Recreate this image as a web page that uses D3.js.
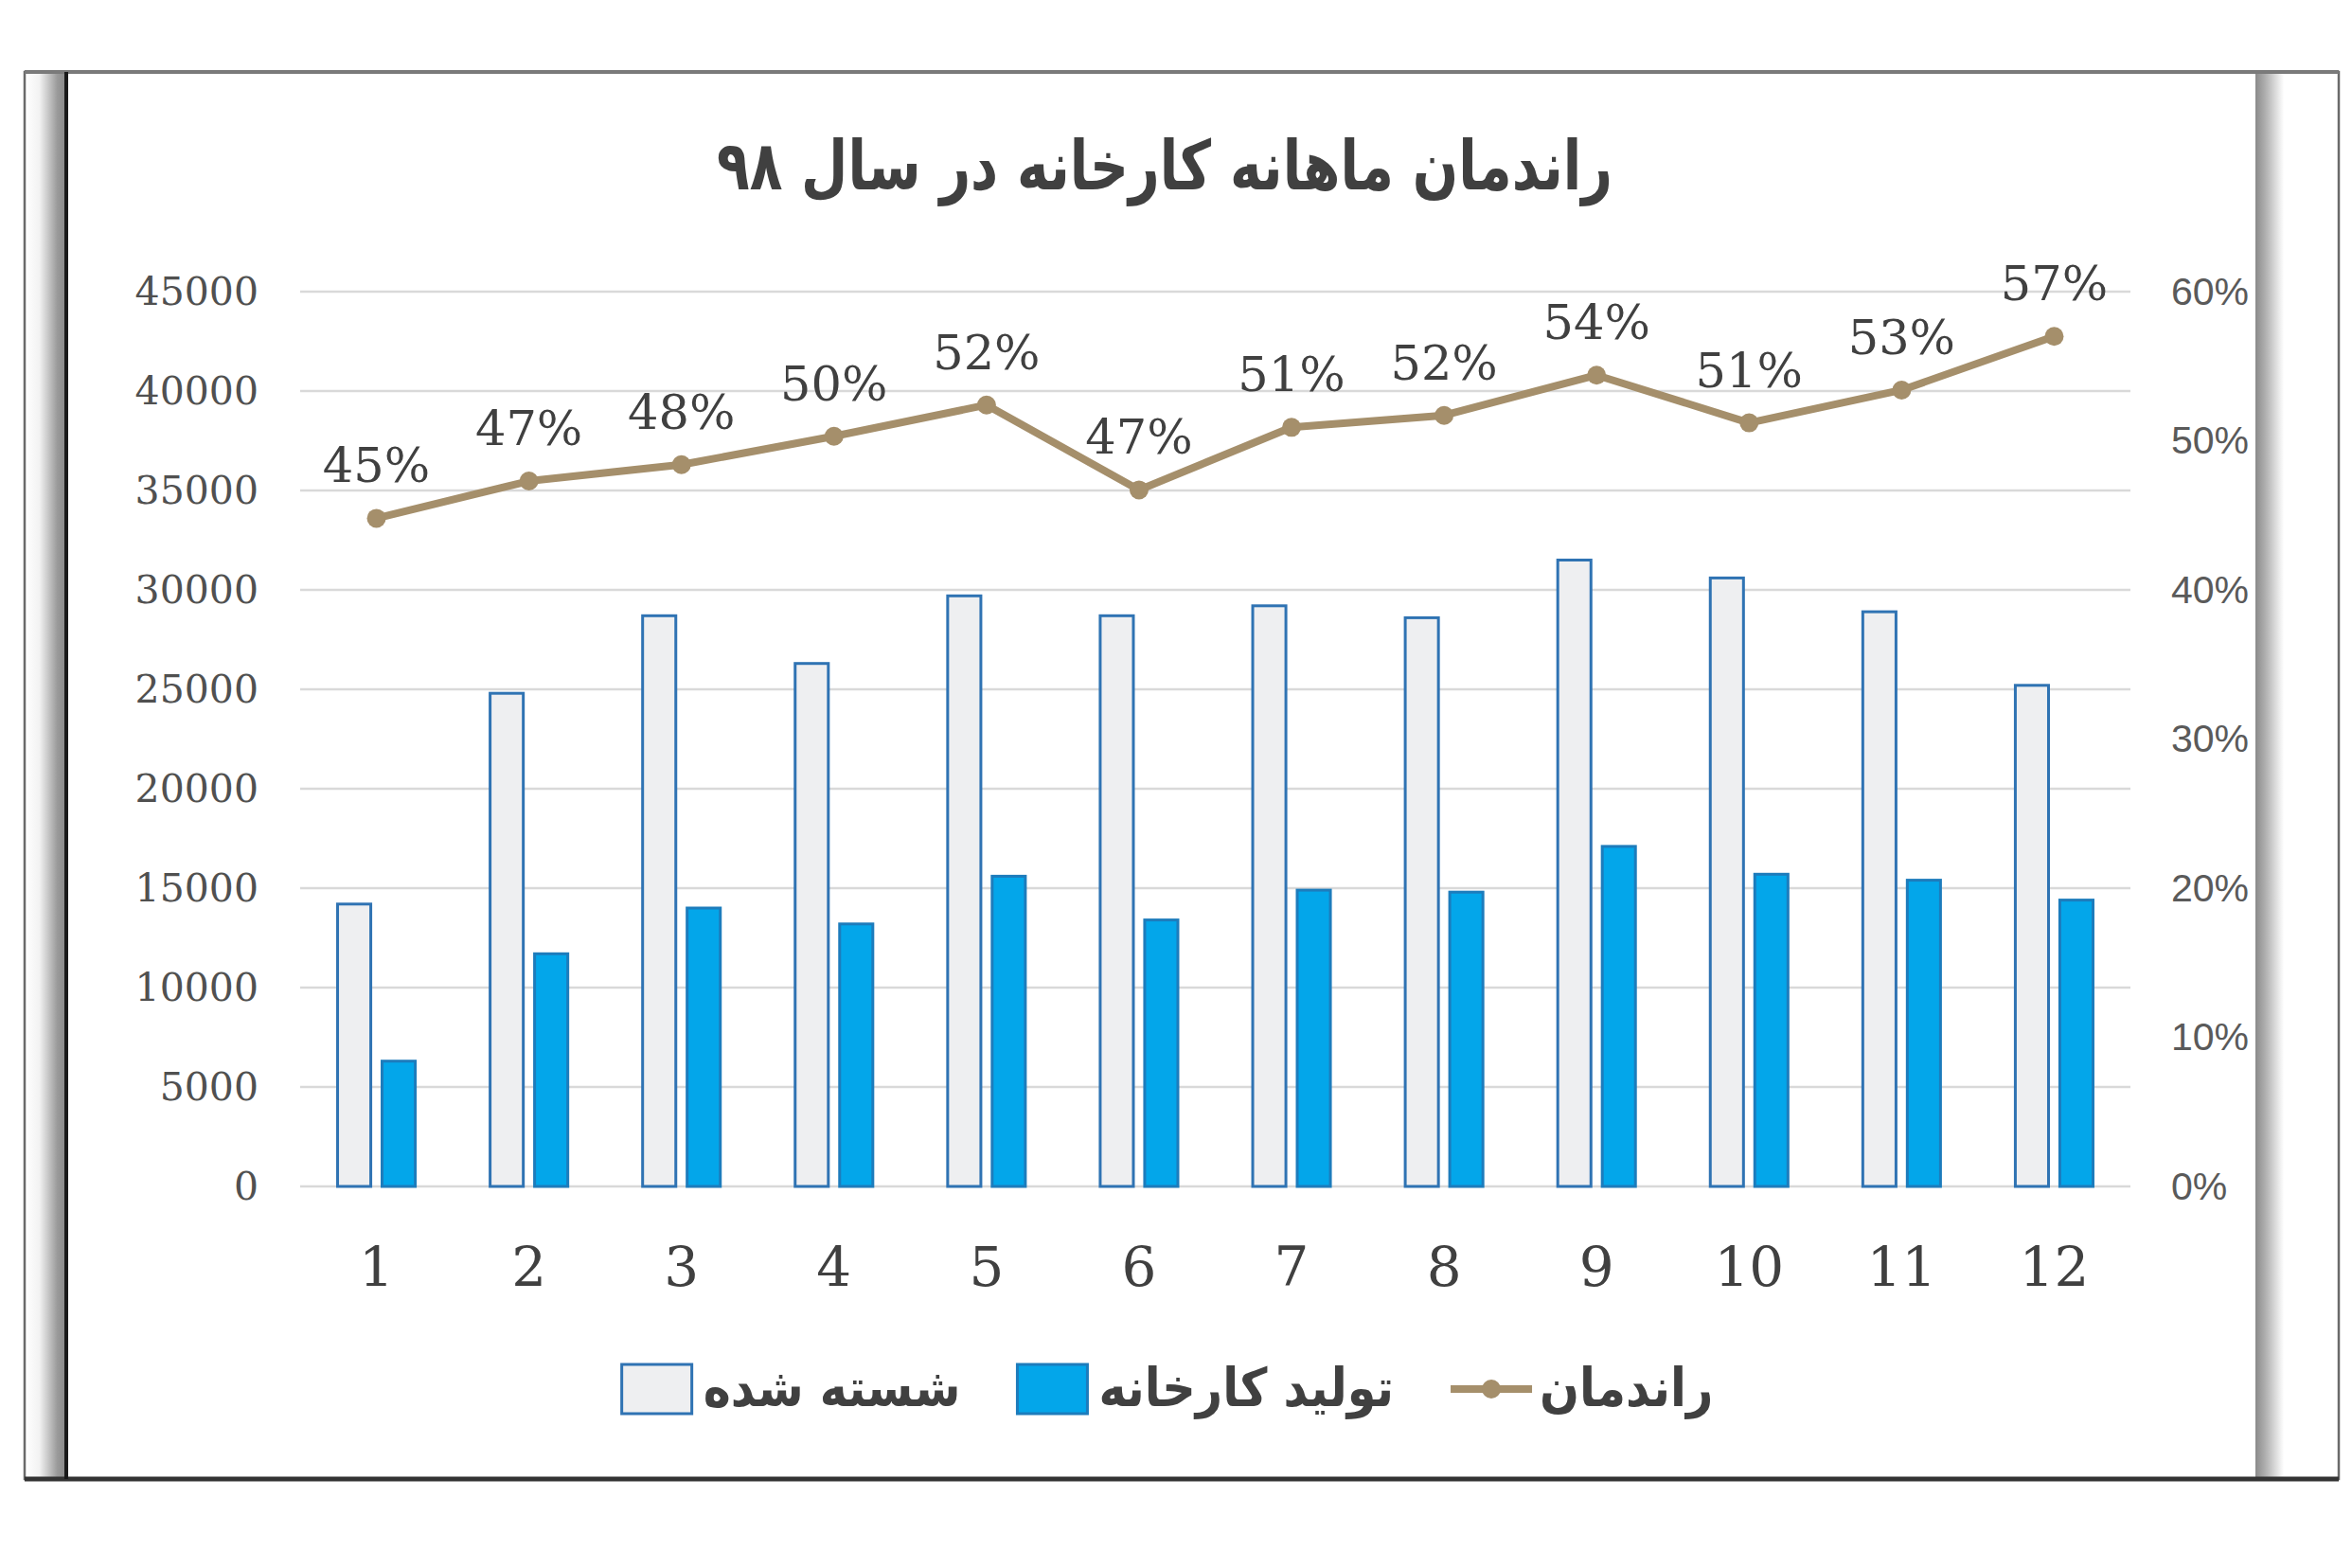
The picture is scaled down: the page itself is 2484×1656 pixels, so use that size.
<!DOCTYPE html>
<html>
<head>
<meta charset="utf-8">
<script src="https://cdn.jsdelivr.net/npm/d3@7"></script>
<style>
  html, body { margin: 0; padding: 0; background: #fff; }
  svg { display: block; }
</style>
</head>
<body>
<div id="chart"></div>
<script>

const months = ["1","2","3","4","5","6","7","8","9","10","11","12"];
const washed = [14200,24800,28700,26300,29700,28700,29200,28600,31500,30600,28900,25200];
const produced = [6300,11700,14000,13200,15600,13400,14900,14800,17100,15700,15400,14400];
const efficiency = [0.448,0.473,0.484,0.503,0.524,0.467,0.509,0.517,0.544,0.512,0.534,0.570];
const leftTicks = [0,5000,10000,15000,20000,25000,30000,35000,40000,45000];
const rightTicks = [0,0.1,0.2,0.3,0.4,0.5,0.6];

const titleText = "راندمان ماهانه کارخانه در سال ۹۸";
const seriesNames = ["شسته شده","تولید کارخانه","راندمان"];

const W = 2484, H = 1656;
const m = {t:308, r:234, b:403, l:317};

const svg = d3.select("#chart").append("svg")
	.attr("width", W)
	.attr("height", H);

const defs = svg.append("defs");
const gl = defs.append("linearGradient").attr("id","gl");
gl.append("stop").attr("offset","0%").attr("stop-color","#ffffff");
gl.append("stop").attr("offset","35%").attr("stop-color","#f2f2f2");
gl.append("stop").attr("offset","80%").attr("stop-color","#9a9a9a");
gl.append("stop").attr("offset","100%").attr("stop-color","#8a8a8a");
const gr = defs.append("linearGradient").attr("id","gr");
gr.append("stop").attr("offset","0%").attr("stop-color","#8a8a8a");
gr.append("stop").attr("offset","40%").attr("stop-color","#b5b5b5");
gr.append("stop").attr("offset","100%").attr("stop-color","#ffffff");

// frame around the picture
const frame = svg.append("g");
frame.append("rect").attr("x",27).attr("y",77).attr("width",42).attr("height",1485).attr("fill","url(#gl)");
frame.append("rect").attr("x",2382).attr("y",77).attr("width",30).attr("height",1485).attr("fill","url(#gr)");
frame.append("rect").attr("x",26).attr("y",76).attr("width",2444).attr("height",1486)
	.attr("fill","none").attr("stroke","#6a6a6a").attr("stroke-width",2.5);
frame.append("line").attr("x1",26).attr("x2",2470).attr("y1",76).attr("y2",76)
	.attr("stroke","#7a7a7a").attr("stroke-width",4);
frame.append("line").attr("x1",26).attr("x2",2470).attr("y1",1562).attr("y2",1562)
	.attr("stroke","#333").attr("stroke-width",5);
frame.append("line").attr("x1",70).attr("x2",70).attr("y1",76).attr("y2",1562)
	.attr("stroke","#1a1a1a").attr("stroke-width",4);

const x = d3.scaleBand()
	.domain(months)
	.range([m.l, W - m.r])
	.paddingInner(0.472)
	.paddingOuter(0.236);

const x1 = d3.scaleBand()
	.domain(["washed","produced"])
	.range([0, x.bandwidth()])
	.paddingInner(0.19);

const y = d3.scaleLinear()
	.domain([0,45000])
	.range([H - m.b, m.t]);

const y2 = d3.scaleLinear()
	.domain([0,0.6])
	.range([H - m.b, m.t]);

// gridlines
svg.append("g")
	.selectAll("line")
	.data(leftTicks)
	.join("line")
	.attr("x1", m.l).attr("x2", W - m.r)
	.attr("y1", d => y(d)).attr("y2", d => y(d))
	.attr("stroke","#d9d9d9")
	.attr("stroke-width",2.5);

// left axis
const yAxis = svg.append("g")
	.attr("transform", `translate(${m.l},0)`)
	.call(d3.axisLeft(y).tickValues(leftTicks).tickSize(0).tickPadding(44).tickFormat(d3.format("d")));
yAxis.select(".domain").remove();
yAxis.selectAll("text")
	.attr("font-family","'DejaVu Serif', serif")
	.attr("font-size",41)
	.attr("fill","#505050");

// right axis
const rAxis = svg.append("g")
	.attr("transform", `translate(${W - m.r},0)`)
	.call(d3.axisRight(y2).tickValues(rightTicks).tickSize(0).tickPadding(43).tickFormat(d3.format(".0%")));
rAxis.select(".domain").remove();
rAxis.selectAll("text")
	.attr("font-family","'Liberation Sans', Arial, sans-serif")
	.attr("font-size",41)
	.attr("fill","#5a5a5a");

// bottom axis
const xAxis = svg.append("g")
	.attr("transform", `translate(0,${H - m.b})`)
	.call(d3.axisBottom(x).tickSize(0).tickPadding(64));
xAxis.select(".domain").remove();
xAxis.selectAll("text")
	.attr("font-family","'DejaVu Serif', serif")
	.attr("font-size",58)
	.attr("fill","#404040");

// bars
const groups = svg.append("g")
	.selectAll("g")
	.data(months)
	.join("g")
	.attr("transform", d => `translate(${x(d)},0)`);

groups.append("rect")
	.attr("x", x1("washed") + 1.5)
	.attr("width", x1.bandwidth() - 3)
	.attr("y", (d,i) => y(washed[i]))
	.attr("height", (d,i) => y(0) - y(washed[i]))
	.attr("fill","#eeeff1")
	.attr("stroke","#2f73b3")
	.attr("stroke-width",3);

groups.append("rect")
	.attr("x", x1("produced") + 1.5)
	.attr("width", x1.bandwidth() - 3)
	.attr("y", (d,i) => y(produced[i]))
	.attr("height", (d,i) => y(0) - y(produced[i]))
	.attr("fill","#03a6ea")
	.attr("stroke","#1d7cbc")
	.attr("stroke-width",3);

// efficiency line
const cx = d => x(d) + x.bandwidth()/2;
const line = d3.line()
	.x((d,i) => cx(months[i]))
	.y(d => y2(d));

svg.append("path")
	.datum(efficiency)
	.attr("d", line)
	.attr("fill","none")
	.attr("stroke","#a58f6b")
	.attr("stroke-width",8)
	.attr("stroke-linejoin","round");

svg.append("g")
	.selectAll("circle")
	.data(efficiency)
	.join("circle")
	.attr("cx", (d,i) => cx(months[i]))
	.attr("cy", d => y2(d))
	.attr("r",10)
	.attr("fill","#a58f6b");

svg.append("g")
	.selectAll("text")
	.data(efficiency)
	.join("text")
	.attr("x", (d,i) => cx(months[i]))
	.attr("y", d => y2(d) - 38)
	.attr("text-anchor","middle")
	.attr("font-family","'DejaVu Serif', serif")
	.attr("font-size",51)
	.attr("fill","#404040")
	.text(d => d3.format(".0%")(d));

// title (narrowed to the width of the original typeface)
const title = svg.append("text")
	.attr("x",1230)
	.attr("y",200)
	.attr("text-anchor","middle")
	.attr("font-family","'DejaVu Sans', sans-serif")
	.attr("font-weight","bold")
	.attr("font-size",72)
	.attr("fill","#404040")
	.text(titleText);
title.attr("textLength", 946).attr("lengthAdjust","spacingAndGlyphs");

// legend
const legend = svg.append("g");
const lgY = 1467;
const items = legend.selectAll("g")
	.data(seriesNames)
	.join("g");

items.each(function(d,i){
	const g = d3.select(this);
	if (i < 2) {
		g.append("rect")
			.attr("x",0).attr("y",lgY - 26)
			.attr("width",74).attr("height",52)
			.attr("fill", i === 0 ? "#eeeff1" : "#03a6ea")
			.attr("stroke", i === 0 ? "#2f73b3" : "#1d7cbc")
			.attr("stroke-width",3);
	} else {
		g.append("line")
			.attr("x1",0).attr("x2",86).attr("y1",lgY).attr("y2",lgY)
			.attr("stroke","#a58f6b").attr("stroke-width",8);
		g.append("circle")
			.attr("cx",43).attr("cy",lgY).attr("r",10)
			.attr("fill","#a58f6b");
	}
	const t = g.append("text")
		.attr("x", i < 2 ? 86 : 94)
		.attr("y", lgY)
		.attr("dy","0.32em")
		.attr("font-family","'DejaVu Sans', sans-serif")
		.attr("font-weight","bold")
		.attr("font-size",56)
		.attr("fill","#404040")
		.text(d);
	const tl = t.node().getComputedTextLength();
	t.attr("textLength", tl * 0.88).attr("lengthAdjust","spacingAndGlyphs");
});

let lx = 0;
const offsets = [];
items.each(function(){
	offsets.push(lx);
	lx += this.getBBox().width + 60;
});
lx -= 60;
const lStart = 1233 - lx/2;
items.attr("transform", (d,i) => `translate(${lStart + offsets[i]},0)`);

</script>
</body>
</html>
